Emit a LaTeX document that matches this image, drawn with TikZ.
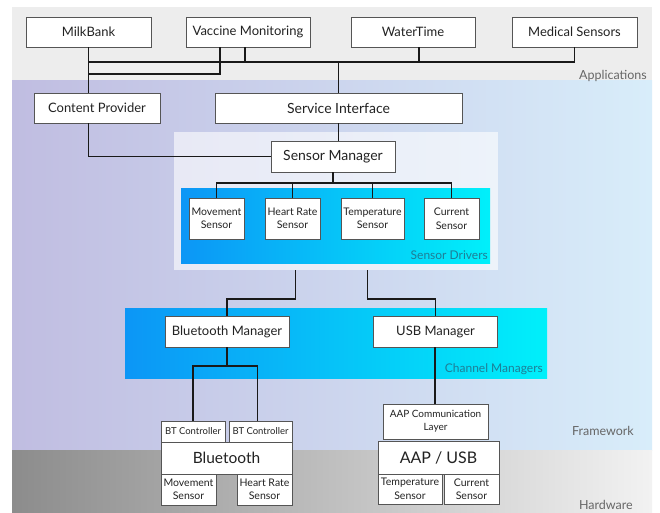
\documentclass[tikz,border=0pt]{standalone}
\usepackage{fontspec}
\setmainfont{Lato}
\newcommand{\fsz}[2]{\fontsize{#1}{#2}\selectfont}
\definecolor{appbg}{HTML}{EDEDED}
\definecolor{fwL}{HTML}{C0BDE1}
\definecolor{fwR}{HTML}{D8EDFA}
\definecolor{hwL}{HTML}{8C8C8C}
\definecolor{hwR}{HTML}{F2F2F2}
\definecolor{cyL}{HTML}{0C96F6}
\definecolor{cyR}{HTML}{00F0FA}
\definecolor{boxline}{HTML}{555555}
\definecolor{txt}{HTML}{222222}
\definecolor{lbl}{HTML}{666666}
\definecolor{teal}{HTML}{1E7E96}
\tikzset{
  box/.style={draw=boxline, fill=white, line width=0.8pt, inner sep=0pt, outer sep=0pt,
    text=txt, align=center, font=\fsz{13}{15}},
  small/.style={box, font=\fsz{10.5}{13.5}},
  tiny/.style={box, font=\fsz{9.5}{11}},
  big/.style={box, font=\fsz{16}{18}},
  wire/.style={draw=black!90, line width=1.4pt},
  layerlbl/.style={text=lbl, font=\fsz{12.5}{14}, inner sep=0pt, anchor=east},
  panellbl/.style={text=teal, font=\fsz{12}{14}, inner sep=0pt, anchor=east}
}
\begin{document}
\begin{tikzpicture}[x=1pt,y=-1pt]
\useasboundingbox (0,0) rectangle (660,512);
% bands
\fill[white] (0,0) rectangle (660,512);
\fill[appbg] (12,7) rectangle (652,80);
\shade[left color=fwL, right color=fwR] (12,80) rectangle (652,450);
\shade[left color=hwL, right color=hwR] (12,450) rectangle (652,512);
% panels
\fill[white, opacity=0.6] (174,132) rectangle (498,270);
\shade[left color=cyL, right color=cyR] (181,188) rectangle (490,263);
\shade[left color=cyL, right color=cyR] (125,308) rectangle (547,378);
% layer labels
\node[layerlbl] (lapp) at (647,76) {Applications};
\node[layerlbl] (lfw) at (634,431) {Framework};
\node[layerlbl, anchor=base east] (lhw) at (633,509.5) {Hardware};
\node[panellbl] (lsd) at (488,255) {Sensor Drivers};
\node[panellbl] (lcm) at (543,369) {Channel Managers};
% coordinates
\coordinate (bus) at (0,62);
\coordinate (bus2) at (0,74);
\coordinate (sbus) at (0,183);
\coordinate (mid) at (0,299);
\coordinate (btbus) at (0,366);
\coordinate (pl) at (295.5,270);
\coordinate (pr) at (367.5,270);
% application boxes
\node[box, minimum width=125pt, minimum height=30pt] (milk) at (88.5,32) {MilkBank};
\node[box, minimum width=124pt, minimum height=30pt] (vac) at (248,32) {Vaccine Monitoring};
\node[box, minimum width=124pt, minimum height=30pt] (water) at (413,32) {WaterTime};
\node[box, minimum width=125pt, minimum height=30pt] (med) at (574.5,32) {Medical Sensors};
% framework boxes
\node[box, minimum width=126pt, minimum height=30pt] (cp) at (97,108) {Content Provider};
\node[box, font=\fsz{14}{16}, minimum width=247pt, minimum height=30pt] (si) at (338.5,108) {Service Interface};
\node[box, font=\fsz{14}{16}, minimum width=124pt, minimum height=31pt] (sm) at (333,156.5) {Sensor Manager};
\node[small, minimum width=55pt, minimum height=41pt] (s1) at (216.5,218.5) {Movement\\Sensor};
\node[small, minimum width=55pt, minimum height=41pt] (s2) at (292.5,218.5) {Heart Rate\\Sensor};
\node[small, minimum width=63pt, minimum height=41pt] (s3) at (372.5,218.5) {Temperature\\Sensor};
\node[small, minimum width=55pt, minimum height=41pt] (s4) at (451.5,218.5) {Current\\Sensor};
\node[box, minimum width=124pt, minimum height=31pt] (btm) at (227,331.5) {Bluetooth Manager};
\node[box, minimum width=124pt, minimum height=31pt] (usbm) at (435.5,331.5) {USB Manager};
% hardware boxes
\node[tiny, minimum width=64pt, minimum height=21pt] (bt1) at (193,431.5) {BT Controller};
\node[tiny, minimum width=63pt, minimum height=21pt] (bt2) at (260.5,431.5) {BT Controller};
\node[big, font=\fsz{15.5}{18}, minimum width=131pt, minimum height=32pt] (bt) at (226.5,458) {Bluetooth};
\node[small, minimum width=55pt, minimum height=31pt] (hs1) at (188.5,489.5) {Movement\\Sensor};
\node[small, minimum width=55pt, minimum height=31pt] (hs2) at (264.5,489.5) {Heart Rate\\Sensor};
\node[small, font=\fsz{10}{13}, minimum width=105pt, minimum height=35pt] (aapc) at (435.5,421.5) {AAP Communication\\Layer};
\node[big, minimum width=121pt, minimum height=33pt] (aap) at (438.5,457.5) {AAP / USB};
\node[small, minimum width=64pt, minimum height=30pt] (hs3) at (410,489) {Temperature\\Sensor};
\node[small, minimum width=55pt, minimum height=30pt] (hs4) at (471.5,489) {Current\\Sensor};
% connectors
\draw[wire] (milk.south) -- (milk.south |- cp.north);
\draw[wire] (milk.south |- bus) -- (med.south |- bus);
\draw[wire] (med.south) -- (med.south |- bus);
\draw[wire] ([xshift=6pt]water.south) -- ([xshift=6pt]water.south |- bus);
\draw[wire] ([xshift=-3pt]vac.south) -- ([xshift=-3pt]vac.south |- bus);
\draw[wire] ([xshift=-28pt]vac.south) |- (milk.south |- bus2);
\draw[wire] (si.north |- bus) -- (si.north);
\draw[wire] (si.south) -- (si.south |- sm.north);
\draw[wire] (cp.south -| milk.south) |- (sm.west);
\draw[wire] (sm.south) -- (sm.south |- sbus);
\draw[wire] (s1.north) -- (s1.north |- sbus) -- (s4.north |- sbus) -- (s4.north);
\draw[wire] (s2.north) -- (s2.north |- sbus);
\draw[wire] (s3.north) -- (s3.north |- sbus);
\draw[wire] (pl) -- (pl |- mid) -| (btm.north);
\draw[wire] (pr) -- (pr |- mid) -| (usbm.north);
\draw[wire] (btm.south) -- (btm.south |- btbus);
\draw[wire] (bt1.north) -- (bt1.north |- btbus) -- ([xshift=-3pt]bt2.north |- btbus) -- ([xshift=-3pt]bt2.north);
\draw[wire] ([xshift=-0.5pt]usbm.south) -- ([xshift=-0.5pt]aapc.north);
\end{tikzpicture}
\end{document}
